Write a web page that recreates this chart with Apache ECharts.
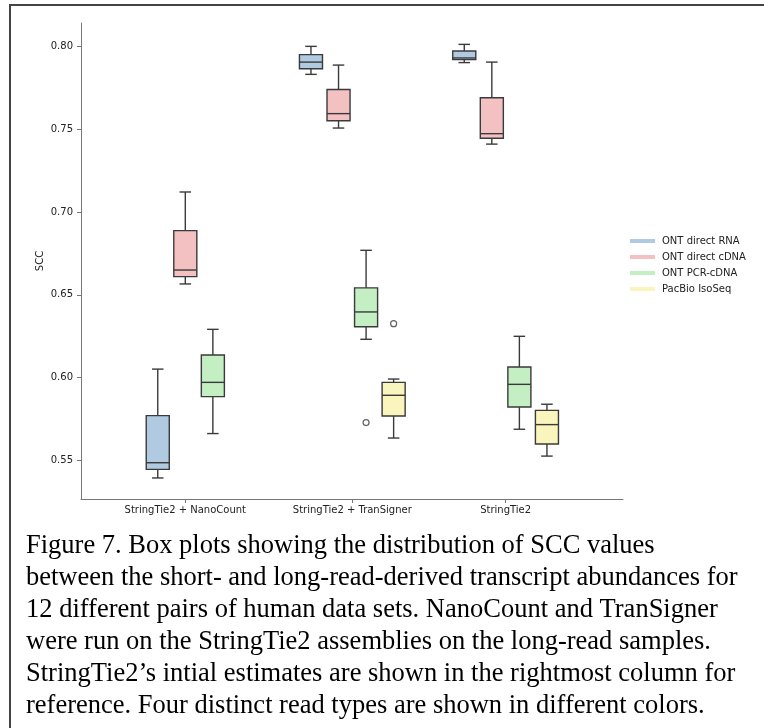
<!DOCTYPE html>
<html>
<head>
<meta charset="utf-8">
<script src="https://cdn.jsdelivr.net/npm/echarts@6/dist/echarts.min.js"></script>
<style>
html,body{margin:0;padding:0;background:#fff}
#chartmain{width:764px;height:728px}
</style>
</head>
<body>
<div id="chartmain"></div>
<script>
// categories
var methods = ['StringTie2 + NanoCount', 'StringTie2 + TranSigner', 'StringTie2'];
var readTypes = ['ONT direct RNA', 'ONT direct cDNA', 'ONT PCR-cDNA', 'PacBio IsoSeq'];

// box stats per method: [min, q1, median, q3, max]
var directRNA  = [[0.5395, 0.5447, 0.5487, 0.5771, 0.6052], [0.7831, 0.7865, 0.7905, 0.7950, 0.8000], [0.7902, 0.7920, 0.7930, 0.7972, 0.8012]];
var directCDNA = [[0.6566, 0.6610, 0.6650, 0.6888, 0.7121], [0.7507, 0.7551, 0.7594, 0.7740, 0.7887], [0.7410, 0.7445, 0.7473, 0.7690, 0.7905]];
var pcrCDNA    = [[0.5663, 0.5886, 0.5972, 0.6137, 0.6292], [0.6232, 0.6308, 0.6397, 0.6542, 0.6769], [0.5689, 0.5823, 0.5960, 0.6065, 0.6250]];
var pacbio     = [null, [0.5636, 0.5769, 0.5894, 0.5972, 0.5992], [0.5527, 0.5600, 0.5717, 0.5803, 0.5840]];

// fliers per method
var pcrOutliers    = [[], [0.5729], []];
var pacbioOutliers = [[], [0.6326], []];

var yTicks = [0.55, 0.60, 0.65, 0.70, 0.75, 0.80];

var caption = [
    'Figure 7. Box plots showing the distribution of SCC values',
    'between the short- and long-read-derived transcript abundances for',
    '12 different pairs of human data sets. NanoCount and TranSigner',
    'were run on the StringTie2 assemblies on the long-read samples.',
    'StringTie2\u2019s intial estimates are shown in the rightmost column for',
    'reference. Four distinct read types are shown in different colors.'
];

// layout
var groupX = [0, 1, 1.918];
var slot = 0.165;
var boxW = 0.138;
var colors = ['#b0cbe1', '#f4c1c3', '#c3efc3', '#f9f5bd'];
var edge = '#3a3a3a';
var allStats = [directRNA, directCDNA, pcrCDNA, pacbio];
var allOutliers = [[[], [], []], [[], [], []], pcrOutliers, pacbioOutliers];

// x position of a box: groups only hold slots for the read types they have
function boxPos(hue, g) {
    var present = [];
    for (var h = 0; h < allStats.length; h++) {
        if (allStats[h][g]) present.push(h);
    }
    var k = present.indexOf(hue);
    return groupX[g] + (k - (present.length - 1) / 2) * slot;
}

function renderBox(params, api) {
    var x = api.value(0);
    var lo = api.coord([x, api.value(1)]);
    var q1 = api.coord([x, api.value(2)]);
    var md = api.coord([x, api.value(3)]);
    var q3 = api.coord([x, api.value(4)]);
    var hi = api.coord([x, api.value(5)]);
    var w = api.size([boxW, 0])[0];
    var cx = lo[0];
    var ls = {stroke: edge, lineWidth: 1.4};
    return {
        type: 'group',
        children: [
            {type: 'line', shape: {x1: cx, y1: q3[1], x2: cx, y2: hi[1]}, style: ls},
            {type: 'line', shape: {x1: cx, y1: q1[1], x2: cx, y2: lo[1]}, style: ls},
            {type: 'line', shape: {x1: cx - w / 4, y1: hi[1], x2: cx + w / 4, y2: hi[1]}, style: ls},
            {type: 'line', shape: {x1: cx - w / 4, y1: lo[1], x2: cx + w / 4, y2: lo[1]}, style: ls},
            {type: 'rect', shape: {x: cx - w / 2, y: q3[1], width: w, height: q1[1] - q3[1]},
                style: {fill: api.visual('color'), stroke: edge, lineWidth: 1.4}},
            {type: 'line', shape: {x1: cx - w / 2, y1: md[1], x2: cx + w / 2, y2: md[1]}, style: ls}
        ]
    };
}

var series = [];
readTypes.forEach(function (name, h) {
    var d = [];
    allStats[h].forEach(function (s, g) {
        if (s) d.push([boxPos(h, g)].concat(s));
    });
    series.push({
        name: name,
        type: 'custom',
        renderItem: renderBox,
        itemStyle: {color: colors[h]},
        encode: {x: 0, y: [1, 2, 3, 4, 5]},
        data: d
    });
});
readTypes.forEach(function (name, h) {
    var d = [];
    allOutliers[h].forEach(function (vals, g) {
        vals.forEach(function (v) { d.push([boxPos(h, g), v]); });
    });
    if (d.length) {
        series.push({
            name: name + ' fliers',
            type: 'scatter',
            symbol: 'circle',
            symbolSize: 6,
            itemStyle: {color: '#fff', borderColor: edge, borderWidth: 1.2},
            data: d
        });
    }
});

var graphics = [{
    type: 'rect',
    shape: {x: 10, y: 5, width: 800, height: 800},
    style: {fill: null, stroke: '#444', lineWidth: 2},
    silent: true
}];
caption.forEach(function (line, i) {
    graphics.push({
        type: 'text',
        left: 26,
        top: 533 + i * 32,
        style: {text: line, font: '26.5px "Liberation Serif"', fill: '#000'}
    });
});

var myChart = echarts.init(document.getElementById('chartmain'));
var option = {
    animation: false,
    textStyle: {fontFamily: 'DejaVu Sans'},
    grid: {left: 81, top: 23, right: 141, bottom: 229, containLabel: false},
    legend: {
        orient: 'vertical',
        left: 625,
        top: 230,
        icon: 'rect',
        itemWidth: 25,
        itemHeight: 4,
        itemGap: 4,
        data: readTypes,
        textStyle: {fontSize: 10, color: '#222', lineHeight: 12, padding: [0, 0, 0, 2]}
    },
    xAxis: {
        type: 'value',
        min: -0.6246,
        max: 2.621,
        splitLine: {show: false},
        axisLine: {onZero: false, lineStyle: {color: '#777', width: 1}},
        axisTick: {length: 4, lineStyle: {color: '#777'}, customValues: groupX},
        axisLabel: {
            customValues: groupX,
            margin: 6,
            fontSize: 10,
            color: '#222',
            formatter: function (v) {
                for (var i = 0; i < groupX.length; i++) {
                    if (Math.abs(groupX[i] - v) < 1e-6) return methods[i];
                }
                return '';
            }
        }
    },
    yAxis: {
        type: 'value',
        name: 'SCC',
        nameLocation: 'middle',
        nameGap: 36,
        nameMoveOverlap: false,
        nameTextStyle: {fontSize: 10, color: '#222'},
        min: 0.5268,
        max: 0.8141,
        splitLine: {show: false},
        axisLine: {show: true, onZero: false, lineStyle: {color: '#777', width: 1}},
        axisTick: {show: true, length: 4, lineStyle: {color: '#777'}, customValues: yTicks},
        axisLabel: {
            customValues: yTicks,
            margin: 8,
            fontSize: 10,
            color: '#222',
            formatter: function (v) { return v.toFixed(2); }
        }
    },
    graphic: graphics,
    series: series
};
myChart.setOption(option);
</script>
</body>
</html>
